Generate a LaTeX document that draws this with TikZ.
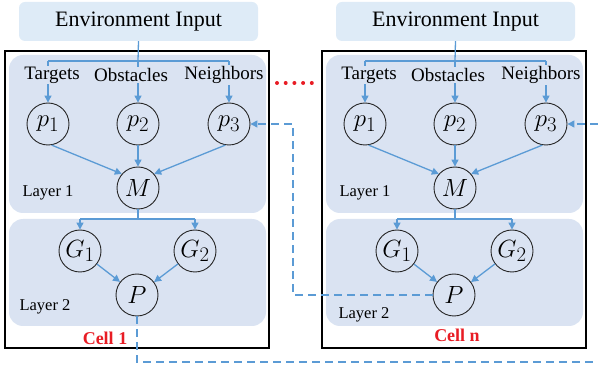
\documentclass[tikz,border=0pt]{standalone}
\usepackage{fontspec}
\setmainfont{Liberation Serif}
\usetikzlibrary{arrows.meta}
\definecolor{ablue}{RGB}{91,155,213}
\definecolor{regfill}{RGB}{218,227,242}
\definecolor{envfill}{RGB}{222,235,247}
\definecolor{cred}{RGB}{232,28,36}
\begin{document}
\begin{tikzpicture}[x=1pt,y=-1pt,
  region/.style={fill=regfill, draw=none, rounded corners=14pt},
  envbox/.style={fill=envfill, rounded corners=6pt, minimum width=239pt, minimum height=39pt, inner sep=0pt, font=\fontsize{22}{24}\selectfont},
  cellframe/.style={draw=black, line width=1.3pt},
  var/.style={circle, draw=black!85, fill=regfill, line width=0.9pt, minimum size=42pt, inner sep=0pt, font=\fontsize{24.88}{26}\selectfont},
  lbl/.style={fill=regfill, inner sep=1pt, font=\fontsize{19}{21}\selectfont},
  lyr/.style={inner sep=0pt, font=\fontsize{16.5}{18}\selectfont},
  conn/.style={draw=ablue, line width=1.3pt},
  arr/.style={conn, -{Triangle[length=7pt,width=7pt]}},
  dsh/.style={conn, dash pattern=on 8pt off 5pt},
  cellname/.style={text=cred, inner sep=0pt, font=\bfseries\fontsize{18}{20}\selectfont},
]
\useasboundingbox (0,0) rectangle (598,366);
\foreach \c/\dx/\lx/\ly/\cx/\cy/\cn in {a/0/45/307/105/338/Cell 1, b/317/47/315/140/335/Cell n}{
\begin{scope}[xshift=\dx pt]
  \node[envbox] (\c-env) at (138.5,21.5) {Environment Input};
  \draw[cellframe] (5,51) rectangle (269,348);
  \fill[region] (9,55) rectangle (266,213);
  \fill[region] (9,219) rectangle (266,326);
  \node[var] (\c-p1) at (48,124) {$p_1$};
  \node[var] (\c-p2) at (138,124) {$p_2$};
  \node[var] (\c-p3) at (229,124) {$p_3$};
  \node[var] (\c-M) at (138,188) {$M$};
  \node[var] (\c-G1) at (80,251) {$G_1$};
  \node[var] (\c-G2) at (195,251) {$G_2$};
  \node[var] (\c-P) at (137,295) {$P$};
  \coordinate (\c-s0) at (138,61);
  \coordinate (\c-s1) at (48,61);
  \coordinate (\c-s3) at (229,61);
  \draw[conn] (\c-env.south) -- (\c-s0);
  \draw[conn] (\c-s1) -- (\c-s3);
  \draw[arr] (\c-s1) -- (\c-p1);
  \draw[arr] (\c-s0) -- (\c-p2);
  \draw[arr] (\c-s3) -- (\c-p3);
  \draw[arr] (\c-p1.-80) -- (\c-M.139);
  \draw[arr] (\c-p2) -- (\c-M);
  \draw[arr] (\c-p3.-100) -- (\c-M.41);
  \coordinate (\c-m0) at (138,219);
  \coordinate (\c-g1s) at (80,219);
  \coordinate (\c-g2s) at (195,219);
  \draw[conn] (\c-M) -- (\c-m0);
  \draw[conn] (\c-g1s) -- (\c-g2s);
  \draw[arr] (\c-g1s) -- (\c-G1);
  \draw[arr] (\c-g2s) -- (\c-G2);
  \draw[arr] (\c-G1) -- (\c-P);
  \draw[arr] (\c-G2) -- (\c-P);
  \node[lbl] (\c-tg) at (52,75) {Targets};
  \node[lbl] (\c-ob) at (131,75) {Obstacles};
  \node[lbl] (\c-nb) at (224,75) {Neighbors};
  \node[lyr] (\c-l1) at (48,193) {Layer 1};
  \node[lyr] (\c-l2) at (\lx,\ly) {Layer 2};
  \node[cellname] (\c-cell) at (\cx,\cy) {\cn};
\end{scope}
}
\foreach \i in {0,...,4} \fill[cred] (277+8.7*\i,83) circle (2pt);
\coordinate (outB) at (598,362);
\coordinate (inR) at (598,124);
\coordinate (jn) at (293,200);
\draw[dsh] (a-P.south) |- (outB);
\draw[dsh, -{Triangle[length=7pt,width=7pt]}] (inR) -- (b-p3.east);
\draw[dsh, -{Triangle[length=7pt,width=7pt]}] (b-P.west) -- (jn |- b-P.west) -- (jn |- a-p3.east) -- (a-p3.east);
\end{tikzpicture}
\end{document}
